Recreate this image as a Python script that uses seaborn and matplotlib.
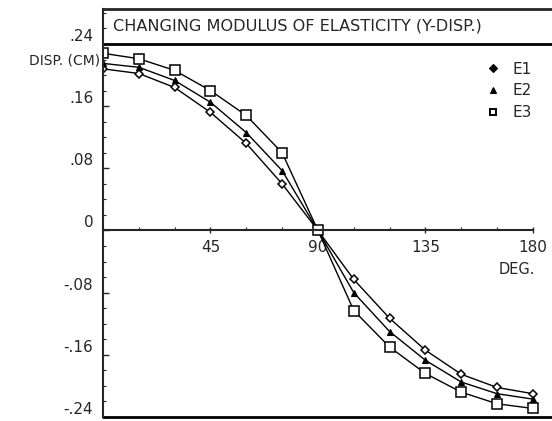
import numpy as np
import pandas as pd
import matplotlib
matplotlib.use("Agg")
import matplotlib.pyplot as plt
from matplotlib.lines import Line2D
from matplotlib.ticker import MultipleLocator
import seaborn as sns

# data
deg = [0, 15, 30, 45, 60, 75, 90, 105, 120, 135, 150, 165, 180]
e1 = [0.208, 0.202, 0.184, 0.152, 0.112, 0.060, 0.0, -0.063, -0.113, -0.154, -0.185, -0.202, -0.210]
e2 = [0.215, 0.210, 0.193, 0.165, 0.126, 0.077, 0.0, -0.080, -0.130, -0.167, -0.195, -0.210, -0.217]
e3 = [0.228, 0.221, 0.206, 0.180, 0.148, 0.100, 0.0, -0.103, -0.150, -0.184, -0.208, -0.223, -0.229]
series_names = ["E1", "E2", "E3"]
y_ticks = [-0.24, -0.16, -0.08, 0, 0.08, 0.16, 0.24]
y_tick_labels = ["-.24", "-.16", "-.08", "0", ".08", ".16", ".24"]
x_ticks = [45, 90, 135, 180]

sns.set_style("white")
plt.rcParams['font.family'] = ['DejaVu Sans']

fig = plt.figure(figsize=(5.52, 4.21), dpi=100)
ax = fig.add_axes([103/552, 1 - 417/421, 1 - 103/552, (417 - 9)/421])

styles = {
    "E1": dict(marker="D", markersize=4.5, markerfacecolor="white", markeredgewidth=1.1),
    "E2": dict(marker="^", markersize=5, markerfacecolor="black", markeredgewidth=0.8),
    "E3": dict(marker="s", markersize=6.5, markerfacecolor="white", markeredgewidth=1.1),
}
for name, vals in zip(series_names, [e1, e2, e3]):
    sns.lineplot(x=deg, y=vals, ax=ax, color="black", linewidth=1.0,
                 markeredgecolor="black", legend=False, **styles[name])

ax.set_xlim(0, 188)
ax.set_ylim(-0.24, 0.285)

# spines: left, top, zero line as x axis, bottom line at -.24
ax.spines['right'].set_visible(False)
ax.spines['top'].set_linewidth(2)
ax.spines['left'].set_linewidth(1.5)
ax.spines['bottom'].set_position(('data', 0))
ax.spines['bottom'].set_bounds(0, 180)
ax.spines['bottom'].set_linewidth(1.5)
ax.axhline(-0.24, color="black", linewidth=2, clip_on=False)
ax.axhline(0.24, color="black", linewidth=2)

ax.set_yticks(y_ticks)
ax.set_yticklabels(y_tick_labels, fontsize=11)
for lab in ax.get_yticklabels():
    lab.set_va("bottom")
ax.yaxis.set_minor_locator(MultipleLocator(0.02))
ax.tick_params(axis="y", which="major", direction="in", length=4, width=1, left=True, pad=7)
ax.tick_params(axis="y", which="minor", direction="in", length=2, width=0.8, left=True)

ax.set_xticks(x_ticks)
ax.set_xticklabels([str(t) for t in x_ticks], fontsize=11)
ax.xaxis.set_minor_locator(MultipleLocator(15))
ax.tick_params(axis="x", which="major", direction="inout", length=5, width=1, bottom=True, pad=4)
ax.tick_params(axis="x", which="minor", direction="in", length=2, width=0.8, bottom=True)
ax.set_xlabel("")
ax.set_ylabel("")

ax.text(0.022, 0.2625, "CHANGING MODULUS OF ELASTICITY (Y-DISP.)", fontsize=11.6,
        transform=ax.get_yaxis_transform(), va="center", ha="left")
ax.text(-1, 0.219, "DISP. (CM)", fontsize=10, ha="right", va="center")
ax.text(181, -0.05, "DEG.", fontsize=10.5, ha="right", va="center")

leg_styles = {
    "E1": dict(marker="D", markersize=4, markerfacecolor="black", markeredgewidth=0.8),
    "E2": dict(marker="^", markersize=4.5, markerfacecolor="black", markeredgewidth=0.8),
    "E3": dict(marker="s", markersize=4.5, markerfacecolor="white", markeredgewidth=1.4),
}
handles = [Line2D([], [], color="black", linestyle="none", **leg_styles[n]) for n in series_names]
leg = ax.legend(handles, series_names, loc="upper left", bbox_to_anchor=(0.82, 0.905),
                frameon=False, fontsize=11, handlelength=1.0, handletextpad=0.8,
                labelspacing=0.45)

fig.savefig("out.png", dpi=100)
